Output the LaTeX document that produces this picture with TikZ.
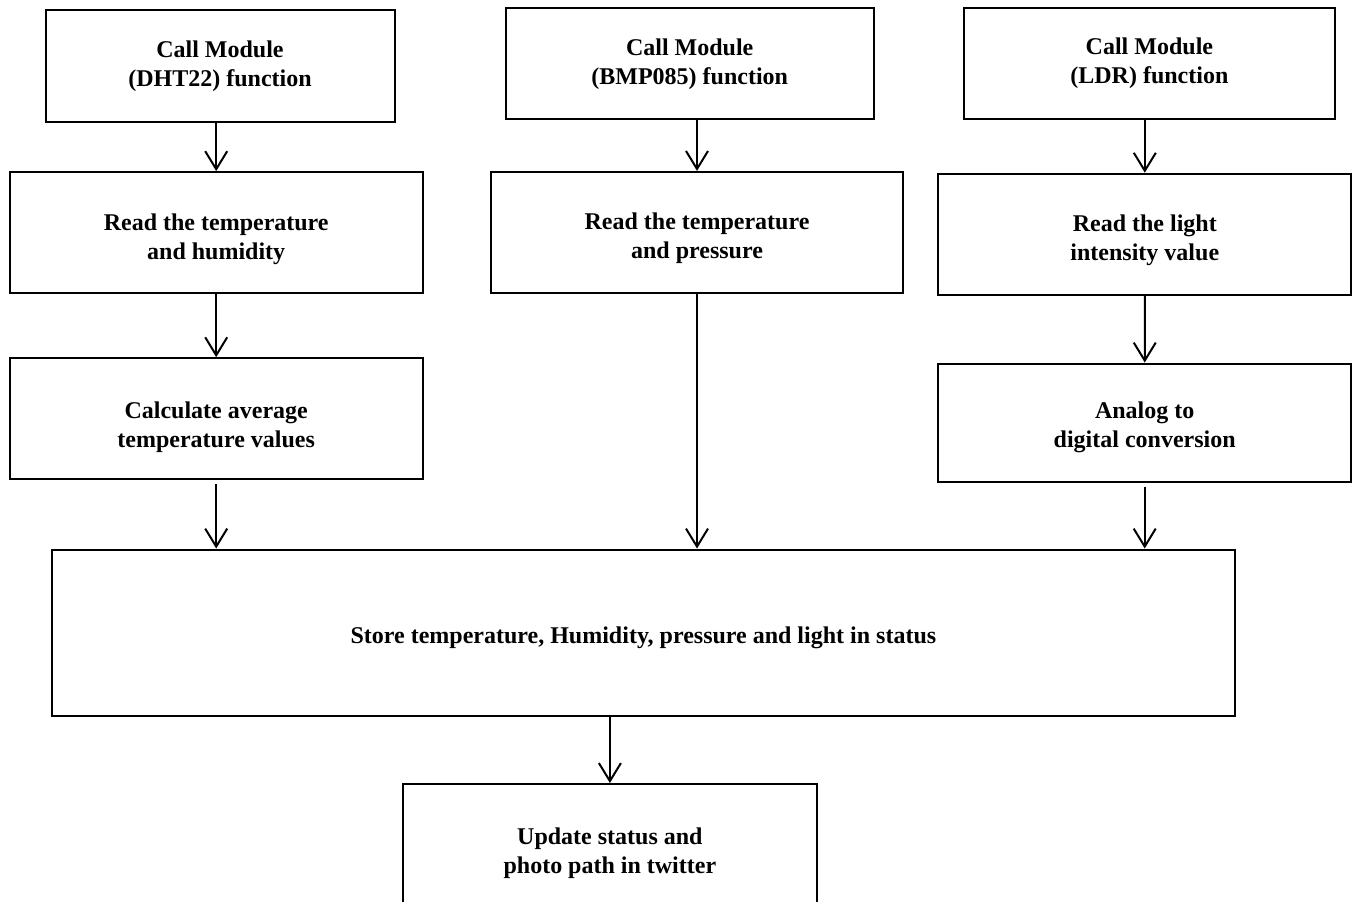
\documentclass[tikz,border=0pt]{standalone}
\usepackage{fontspec}
\setmainfont{Liberation Serif}
\usetikzlibrary{arrows.meta}

\begin{document}
\begin{tikzpicture}[x = 0.5pt, y = -0.5pt,
    box/.style = {draw, line width = 1pt, align = center, inner sep = 0pt,
                  font = \fontsize{12}{14.5}\selectfont\bfseries},
    lowbox/.style = {box, text height = #1},
    flow/.style = {line width = 1pt, -{Straight Barb[length = 9pt, width = 11pt]}}]
  \clip (0, 0) rectangle (1353, 901);

  \node[box, minimum width = 174.5pt, minimum height = 56pt] (calldht) at (220, 66) {Call Module\\(DHT22) function};
  \node[box, minimum width = 184pt, minimum height = 55.5pt] (callbmp) at (689.7, 63.8) {Call Module\\(BMP085) function};
  \node[box, minimum width = 185.5pt, minimum height = 55.5pt] (callldr) at (1149.4, 63.5) {Call Module\\(LDR) function};

  \node[lowbox = 29pt, minimum width = 206.5pt, minimum height = 60.5pt] (readdht) at (216.2, 232.6) {Read the temperature\\and humidity};
  \node[lowbox = 29pt, minimum width = 206pt, minimum height = 60.5pt] (readbmp) at (697, 232.4) {Read the temperature\\and pressure};
  \node[lowbox = 29pt, minimum width = 206.5pt, minimum height = 60.5pt] (readldr) at (1144.8, 234.2) {Read the light\\intensity value};

  \node[lowbox = 31pt, minimum width = 206.5pt, minimum height = 60.5pt] (average) at (216.2, 418.7) {Calculate average\\temperature values};
  \node[lowbox = 28pt, minimum width = 206.5pt, minimum height = 59pt] (adc) at (1144.7, 422.5) {Analog to\\digital conversion};

  \node[lowbox = 13.5pt, minimum width = 591.5pt, minimum height = 83pt] (store) at (643.4, 632.5) {Store temperature, Humidity, pressure and light in status};
  \node[lowbox = 26pt, minimum width = 207pt, minimum height = 66.5pt] (update) at (609.9, 850.5) {Update status and\\photo path in twitter};

  \draw[flow] (calldht.south -| readdht.north) -- (readdht.north);
  \draw[flow] (callbmp.south -| readbmp.north) -- (readbmp.north);
  \draw[flow] (callldr.south -| readldr.north) -- (readldr.north);
  \draw[flow] (readdht) -- (average);
  \draw[flow] (readldr) -- (adc);

  \draw[flow, shorten < = 2pt] (average.south) -- (average.south |- store.north);
  \draw[flow] (readbmp.south) -- (readbmp.south |- store.north);
  \draw[flow, shorten < = 2pt] (adc.south) -- (adc.south |- store.north);
  \draw[flow] (store.south -| update.north) -- (update.north);
\end{tikzpicture}
\end{document}
